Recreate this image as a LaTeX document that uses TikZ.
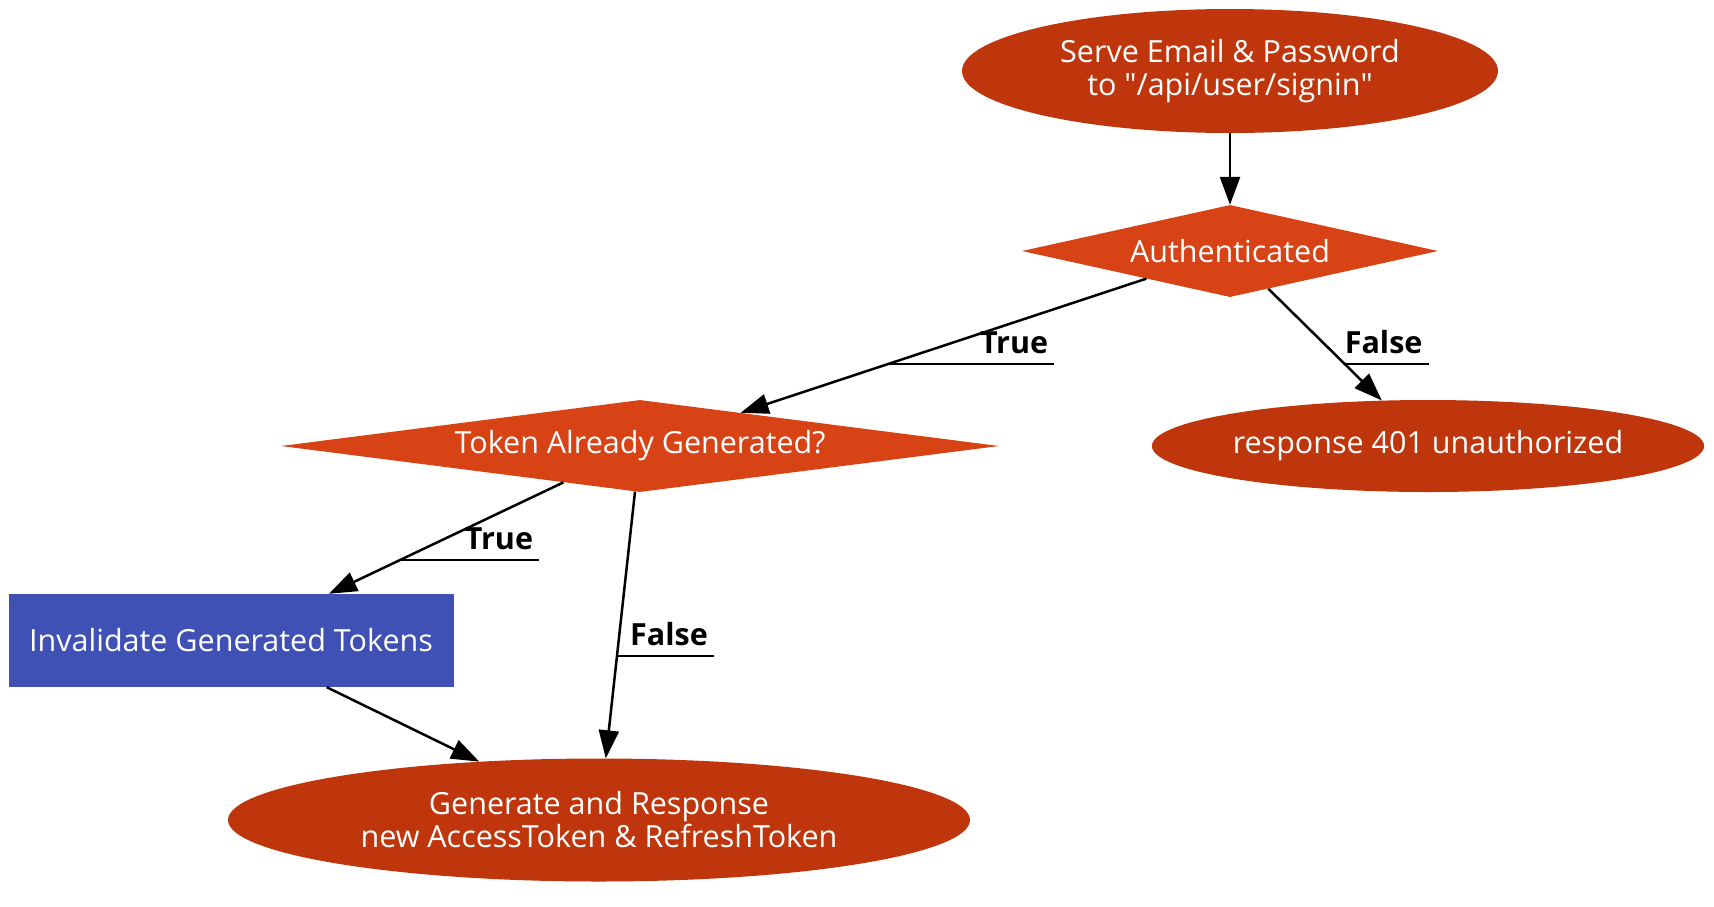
\documentclass[tikz,border=0pt]{standalone}
\usepackage{fontspec}
\setmainfont{Open Sans}
\usetikzlibrary{shapes.geometric,arrows.meta}
\definecolor{termred}{HTML}{BF360C}
\definecolor{decisionred}{HTML}{D84315}
\definecolor{actionblue}{HTML}{3F51B5}
\begin{document}
\begin{tikzpicture}[x=1pt, y=-1pt,
        every node/.style={font=\fontsize{30.5}{33}\selectfont},
        term/.style={ellipse, fill=termred, text=white, align=center, inner sep=0pt},
        decision/.style={diamond, fill=decisionred, text=white, inner sep=0pt},
        action/.style={rectangle, fill=actionblue, text=white, inner sep=0pt},
        edgelbl/.style={font=\fontsize{30.5}{33}\selectfont\bfseries, inner xsep=6pt, inner ysep=10pt, anchor=south east},
        flow/.style={line width=2.5pt, -{Triangle[length=28pt,width=20pt]}},
        uline/.style={line width=2.5pt}]
        \useasboundingbox (0,0) rectangle (1714,906);

        \node[term, minimum width=536, minimum height=124] (serve) at (1230, 71)
            {Serve Email \& Password\\to \textquotedbl/api/user/signin\textquotedbl};
        \node[decision, aspect=4.5, minimum width=416, minimum height=92] (auth) at (1230, 251) {Authenticated};
        \node[decision, aspect=7.8, minimum width=718, minimum height=92] (already) at (640, 446) {Token Already Generated?};
        \node[term, minimum width=532, minimum height=92] (deny) at (1428, 446) {response 401 unauthorized};
        \node[action, minimum width=445, minimum height=93] (invalidate) at (231, 640.5) {Invalidate Generated Tokens};
        \node[term, minimum width=742, minimum height=123] (generate) at (599, 820)
            {Generate and Response\\new AccessToken \& RefreshToken};

        \draw[flow] (serve) -- (auth);
        \draw[flow] (auth) -- coordinate[pos=.636] (authT) (already);
        \draw[flow] (auth) -- coordinate[pos=.673] (authF) (deny);
        \draw[flow] (already) -- coordinate[pos=.696] (alreadyT) (invalidate);
        \draw[flow] (already) -- coordinate[pos=.616] (alreadyF) (generate);
        \draw[flow] (invalidate) -- (generate);

        % decorated edge labels
        \node[edgelbl] (lblAuthT) at ([xshift=166pt]authT) {True};
        \node[edgelbl] (lblAuthF) at ([xshift=84pt]authF) {False};
        \node[edgelbl] (lblAlreadyT) at ([xshift=139pt]alreadyT) {True};
        \node[edgelbl] (lblAlreadyF) at ([xshift=97pt]alreadyF) {False};
        \draw[uline] (authT) -- (lblAuthT.south east);
        \draw[uline] (authF) -- (lblAuthF.south east);
        \draw[uline] (alreadyT) -- (lblAlreadyT.south east);
        \draw[uline] (alreadyF) -- (lblAlreadyF.south east);
    \end{tikzpicture}
\end{document}
